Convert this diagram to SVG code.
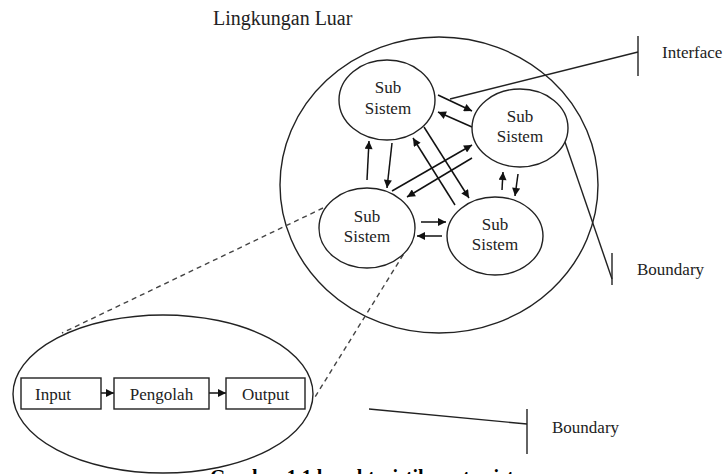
<svg xmlns="http://www.w3.org/2000/svg" width="725" height="474" viewBox="0 0 725 474">
<defs>
<marker id="ah" viewBox="0 0 10 10" refX="10" refY="5" markerWidth="9" markerHeight="8" markerUnits="userSpaceOnUse" orient="auto">
<path d="M0,0 L10,5 L0,10 z" fill="#111"/>
</marker>
</defs>
<style>
text{font-family:"Liberation Serif","Times New Roman",serif;font-size:17px;fill:#222}
.shape{fill:none;stroke:#222;stroke-width:1.4}
.node ellipse{fill:#fff;stroke:#222;stroke-width:1.4}
.box rect{fill:#fff;stroke:#222;stroke-width:1.4}
.arr{stroke:#111;stroke-width:1.5;fill:none;marker-end:url(#ah)}
.line{stroke:#222;stroke-width:1.4;fill:none}
.dash{stroke:#444;stroke-width:1.4;fill:none;stroke-dasharray:5,4}
.mid{text-anchor:middle}
</style>
<rect width="725" height="474" fill="#fff"/>
<text x="213" y="25" style="font-size:20px">Lingkungan Luar</text>
<ellipse id="environment" class="shape" cx="439" cy="185" rx="159" ry="148"/>
<g id="connectors">
<line class="line" x1="450" y1="99" x2="638" y2="52"/>
<line class="line" x1="638" y1="36" x2="638" y2="76"/>
<line class="line" x1="565" y1="142" x2="612" y2="279"/>
<line class="line" x1="612" y1="253" x2="612" y2="285"/>
<line class="line" x1="369" y1="409" x2="527" y2="424"/>
<line class="line" x1="527" y1="409" x2="527" y2="454"/>
<line class="dash" x1="323" y1="208" x2="62" y2="333"/>
<line class="dash" x1="408" y1="247" x2="315" y2="397"/>
<line class="arr" x1="438" y1="95" x2="472" y2="111"/>
<line class="arr" x1="472" y1="127" x2="438" y2="112"/>
<line class="arr" x1="367" y1="180" x2="369" y2="141"/>
<line class="arr" x1="392" y1="143" x2="387" y2="188"/>
<line class="arr" x1="424" y1="127" x2="469" y2="198"/>
<line class="arr" x1="455" y1="205" x2="413" y2="138"/>
<line class="arr" x1="392" y1="191" x2="472" y2="145"/>
<line class="arr" x1="472" y1="158" x2="407" y2="197"/>
<line class="arr" x1="421" y1="222" x2="446" y2="222"/>
<line class="arr" x1="442" y1="236" x2="417" y2="236"/>
<line class="arr" x1="502" y1="190" x2="503" y2="172"/>
<line class="arr" x1="518" y1="174" x2="515" y2="196"/>
<line class="arr" x1="101" y1="393" x2="114" y2="393"/>
<line class="arr" x1="209" y1="393" x2="226" y2="393"/>
</g>
<g id="sub1" class="node"><ellipse cx="387" cy="100" rx="48" ry="40"/><text class="mid" x="388" y="93">Sub</text><text class="mid" x="388" y="114">Sistem</text></g>
<g id="sub2" class="node"><ellipse cx="520" cy="128" rx="48" ry="39"/><text class="mid" x="520" y="122">Sub</text><text class="mid" x="520" y="142">Sistem</text></g>
<g id="sub3" class="node"><ellipse cx="367" cy="228" rx="48" ry="40"/><text class="mid" x="367" y="222">Sub</text><text class="mid" x="367" y="242">Sistem</text></g>
<g id="sub4" class="node"><ellipse cx="495" cy="236" rx="48" ry="39"/><text class="mid" x="495" y="230">Sub</text><text class="mid" x="495" y="250">Sistem</text></g>
<ellipse id="detail" class="shape" cx="163" cy="394" rx="150" ry="79"/>
<g id="input" class="box"><rect x="21" y="378" width="80" height="31"/><text x="35" y="400">Input</text></g>
<g id="pengolah" class="box"><rect x="114" y="378" width="95" height="31"/><text class="mid" x="161.5" y="400">Pengolah</text></g>
<g id="output" class="box"><rect x="226" y="378" width="79" height="31"/><text class="mid" x="265.5" y="400">Output</text></g>
<text x="662" y="58">Interface</text>
<text x="637" y="275">Boundary</text>
<text x="552" y="433">Boundary</text>
<text x="210" y="484" style="font-size:20px;font-weight:bold;fill:#000">Gambar 1.1 karakteristik suatu sistem</text>
</svg>
